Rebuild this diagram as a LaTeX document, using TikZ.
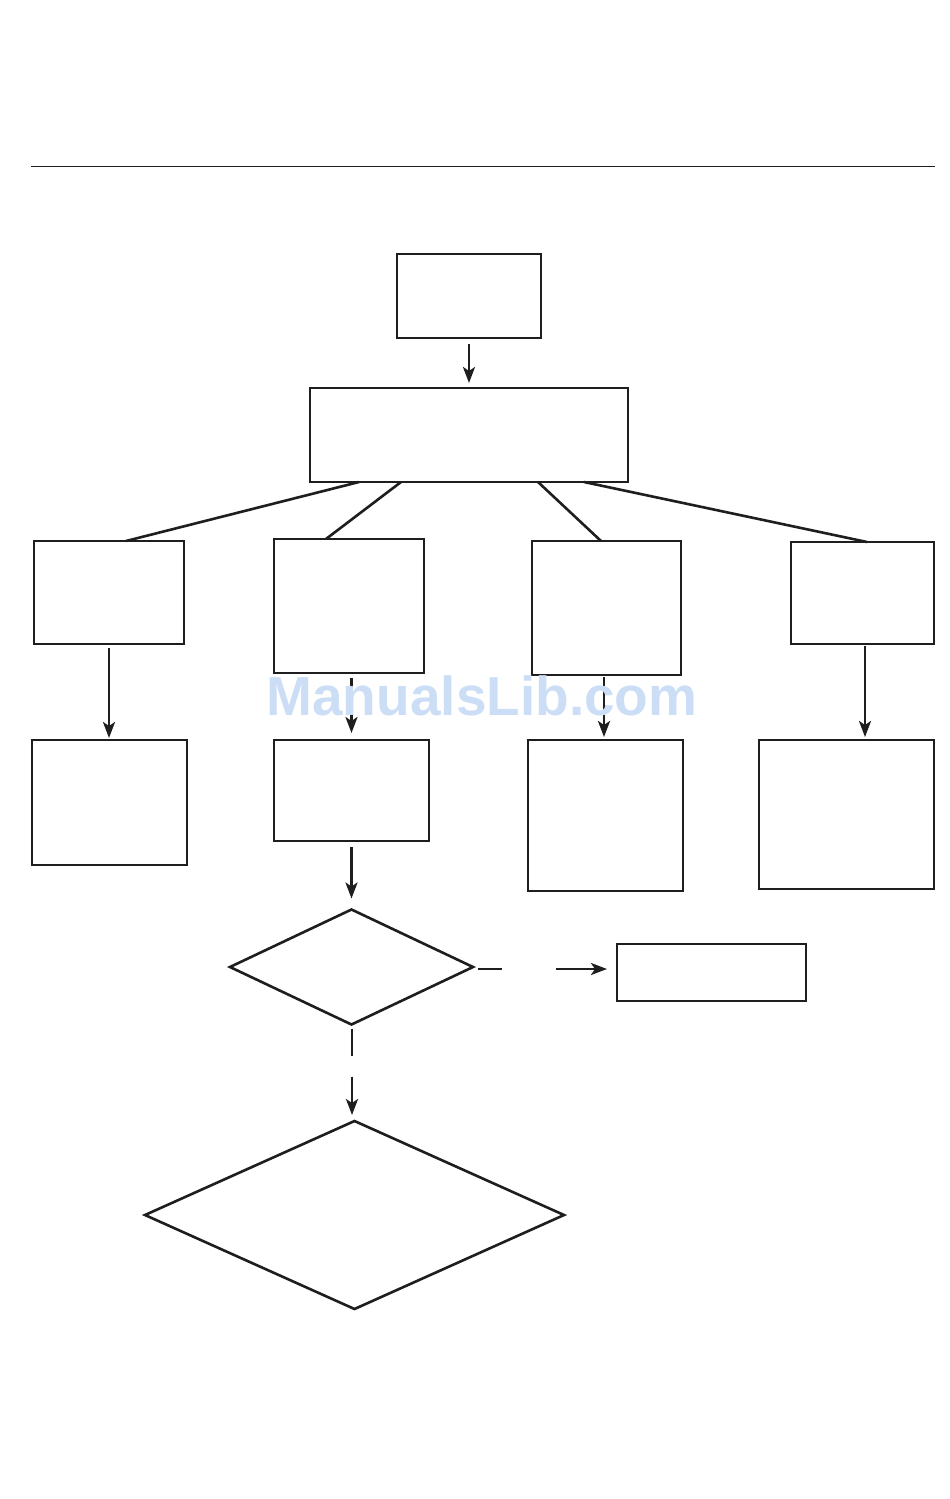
\documentclass[tikz,border=0pt]{standalone}
\usepackage{fontspec}
\newfontfamily\wmfont{Liberation Sans}
\usetikzlibrary{arrows.meta,shapes.geometric}
\definecolor{ink}{RGB}{30,30,30}
\definecolor{wm}{RGB}{204,222,246}
\tikzset{
  box/.style={draw=ink, line width=2.9pt, inner sep=0pt, outer sep=0pt, minimum width=#1},
  dia/.style={draw=ink, line width=2.6pt, diamond, inner sep=0pt, outer sep=0pt},
  conn/.style={draw=ink, line width=2.6pt},
  arr/.style={conn, -{Stealth[length=16pt,width=12pt,inset=4pt]}},
}
\begin{document}
\begin{tikzpicture}[x=1pt,y=-1pt]
\useasboundingbox (0,0) rectangle (950,1499);
\fill[white] (0,0) rectangle (950,1499);
\draw[ink, line width=1pt] (31,166) -- (935,166);
% boxes
\node[box=144pt, minimum height=84pt] (top) at (469,296) {};
\node[box=318pt, minimum height=94pt] (big) at (469,435) {};
\node[box=150pt, minimum height=103pt] (A) at (109,592.5) {};
\node[box=150pt, minimum height=134pt] (B) at (349,606) {};
\node[box=149pt, minimum height=134pt] (C) at (606.5,608) {};
\node[box=143pt, minimum height=102pt] (D) at (862.5,593) {};
\node[box=155pt, minimum height=125pt] (E) at (109.5,802.5) {};
\node[box=155pt, minimum height=101pt] (F) at (351.5,790.5) {};
\node[box=155pt, minimum height=151pt] (G) at (605.5,815.5) {};
\node[box=175pt, minimum height=149pt] (H) at (846.5,814.5) {};
\node[box=189pt, minimum height=57pt] (R) at (711.5,972.5) {};
\node[dia, minimum width=243pt, minimum height=115pt] (d1) at (351.5,967) {};
\node[dia, minimum width=419pt, minimum height=188pt] (d2) at (354.5,1215) {};
% connectors
\draw[arr, shorten <=6pt, shorten >=5pt] (top.south) -- (big.north);
\draw[conn] ([xshift=-110pt]big.south) -- ([xshift=17pt]A.north);
\draw[conn] ([xshift=-68pt]big.south) -- ([xshift=-23pt]B.north);
\draw[conn] ([xshift=69pt]big.south) -- ([xshift=-5.5pt]C.north);
\draw[conn] ([xshift=115pt]big.south) -- ([xshift=4.5pt]D.north);
\draw[arr, shorten <=4pt, shorten >=2pt] (A.south) -- (A.south |- E.north);
\draw[arr, shorten <=5pt, shorten >=7pt] (B.south -| F.north) -- (F.north);
\draw[arr, shorten <=2pt, shorten >=3pt] (C.south -| 604,0) -- (G.north -| 604,0);
\draw[arr, shorten <=2pt, shorten >=3pt] (D.south -| 865,0) -- (H.north -| 865,0);
\draw[arr, shorten <=6pt, shorten >=11pt] (F.south) -- (d1.north);
\draw[arr, dash pattern=on 24pt off 54pt on 200pt, shorten <=5pt, shorten >=10pt] ([yshift=-2pt]d1.east) -- ([yshift=-2pt]R.west |- d1.east);
\draw[arr, dash pattern=on 27pt off 21pt on 200pt, shorten <=4pt, shorten >=6pt] (d1.south -| 352,0) -- (d2.north -| 352,0);
% watermark
\node[text=wm, font=\wmfont\bfseries\fontsize{55}{55}\selectfont, inner sep=0pt] (wmk) at (482,696) {ManualsLib.com};
\end{tikzpicture}
\end{document}
